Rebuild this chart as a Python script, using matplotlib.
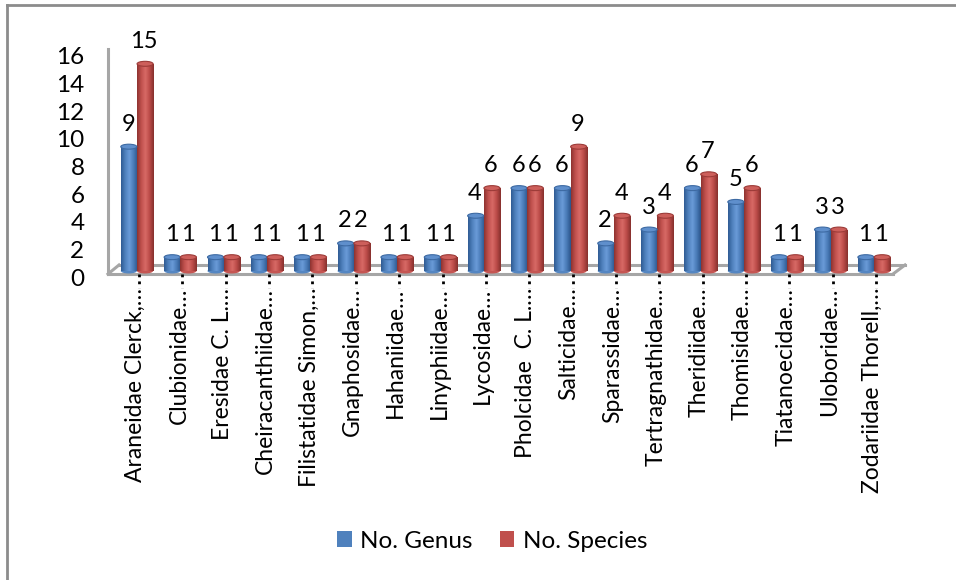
import numpy as np
import matplotlib
matplotlib.use('Agg')
import matplotlib.pyplot as plt
from matplotlib.patches import Ellipse
from matplotlib.lines import Line2D
from matplotlib.colors import LinearSegmentedColormap
import matplotlib.transforms as mtransforms

plt.rcParams['font.family'] = ['Lato', 'DejaVu Sans']

families = ['Araneidae Clerck,\u2026', 'Clubionidae\u2026', 'Eresidae C. L.\u2026',
            'Cheiracanthiidae\u2026', 'Filistatidae Simon,\u2026', 'Gnaphosidae\u2026',
            'Hahaniidae\u2026', 'Linyphiidae\u2026', 'Lycosidae\u2026',
            'Pholcidae  C. L.\u2026', 'Salticidae\u2026', 'Sparassidae\u2026',
            'Tertragnathidae\u2026', 'Theridiidae\u2026', 'Thomisidae\u2026',
            'Tiatanoecidae\u2026', 'Uloboridae\u2026', 'Zodariidae Thorell,\u2026']
n_genus = [9, 1, 1, 1, 1, 2, 1, 1, 4, 6, 6, 2, 3, 6, 5, 1, 3, 1]
n_species = [15, 1, 1, 1, 1, 2, 1, 1, 6, 6, 9, 4, 4, 7, 6, 1, 3, 1]
yticks = [0, 2, 4, 6, 8, 10, 12, 14, 16]

W, H = 956, 580
fig = plt.figure(figsize=(W / 100, H / 100), dpi=100)
ax = fig.add_axes([108 / W, (H - 271) / H, 785 / W, 221 / H])
ax.set_xlim(-0.715, 17.39)
ax.set_ylim(0, 16)
for s in ax.spines.values():
    s.set_visible(False)

x = np.arange(len(families))
bw = 0.37
cap = 0.36  # ellipse height in data units

blue_cm = LinearSegmentedColormap.from_list('b', ['#2f5b93', '#4f81bd', '#6a9bd8', '#4a7bb8', '#2c548a'])
red_cm = LinearSegmentedColormap.from_list('r', ['#8e3330', '#c0504d', '#d86a66', '#bb4b48', '#86302d'])
grad = np.linspace(0, 1, 64).reshape(1, -1)


def cylinders(xpos, vals, base, cmap, top, rim, label):
    bars = ax.bar(xpos, vals, bw, color=base, label=label, zorder=2)
    for b, v in zip(bars, vals):
        x0 = b.get_x()
        img = ax.imshow(grad, cmap=cmap, aspect='auto', extent=(x0, x0 + bw, 0, v),
                        zorder=2.1, interpolation='bilinear')
        img.set_clip_path(b)
        xc = x0 + bw / 2
        bot = Ellipse((xc, 0), bw, cap, facecolor=cmap(0.3), edgecolor='none',
                      zorder=1.9, clip_on=False)
        ax.add_patch(bot)
        tp = Ellipse((xc, v), bw, cap, facecolor=top, edgecolor=rim, lw=0.8, zorder=2.2)
        ax.add_patch(tp)
    return bars


cylinders(x - 0.235, n_genus, '#4f81bd', blue_cm, '#5f8fcc', '#3d6aa3', 'No. Genus')
cylinders(x + 0.14, n_species, '#c0504d', red_cm, '#cd5f5b', '#9c3b38', 'No. Species')

# data labels above each cylinder
for xi, g, s in zip(x, n_genus, n_species):
    ax.annotate(str(g), (xi - 0.25, g), xytext=(0, 16), textcoords='offset pixels',
                ha='center', va='baseline', fontsize=17, annotation_clip=False)
    ax.annotate(str(s), (xi + 0.12, s), xytext=(0, 16), textcoords='offset pixels',
                ha='center', va='baseline', fontsize=17, annotation_clip=False)

# floor and back wall
g = '#a6a6a6'
px = 1 / 43.35
py = 1 / 13.8
fx0, fx1 = ax.get_xlim()
ax.plot([fx0, fx1], [-3 * py, -3 * py], color=g, lw=2.2, clip_on=False, zorder=1)
ax.plot([fx0 + 11 * px, fx1 + 12 * px], [6 * py, 6 * py], color=g, lw=2.2, clip_on=False, zorder=1)
ax.plot([fx0, fx0 + 11 * px], [-3 * py, 6 * py], color=g, lw=2.2, clip_on=False, zorder=1)
ax.plot([fx1, fx1 + 12 * px], [-3 * py, 6 * py], color=g, lw=2.2, clip_on=False, zorder=1)
ax.plot([fx0, fx0], [-3 * py, 16.05], color=g, lw=2.2, clip_on=False, zorder=1)

# dotted category ticks under the floor
trans = mtransforms.blended_transform_factory(ax.transData, ax.transAxes)
ax.vlines(x, -0.015, -0.075, colors='black', linestyles=(0, (1, 1.5)), lw=2,
          transform=trans, clip_on=False)

ax.set_yticks(yticks)
ax.set_yticklabels([str(t) for t in yticks], fontsize=17.5)
ax.tick_params(axis='y', length=0, pad=17)
for lab in ax.get_yticklabels():
    lab.set_transform(lab.get_transform() + mtransforms.ScaledTranslation(0, -6 / 100, fig.dpi_scale_trans))

ax.set_xticks(x - 0.08)
ax.set_xticklabels(families, rotation=90, fontsize=16.5)
ax.tick_params(axis='x', length=0, pad=12)

leg = fig.legend(loc='center', bbox_to_anchor=(0.515, 1 - 541 / H), ncol=2, frameon=False,
                 fontsize=17.5, handlelength=0.6, handleheight=0.6, handletextpad=0.35,
                 columnspacing=1.1)

# chart area border (top and left edges)
fig.add_artist(Line2D([7 / W, 1], [1 - 5 / H, 1 - 5 / H], color='#8c8c8c', lw=2))
fig.add_artist(Line2D([7 / W, 7 / W], [0, 1 - 5 / H], color='#8c8c8c', lw=2))

fig.savefig('out.png', dpi=100)
